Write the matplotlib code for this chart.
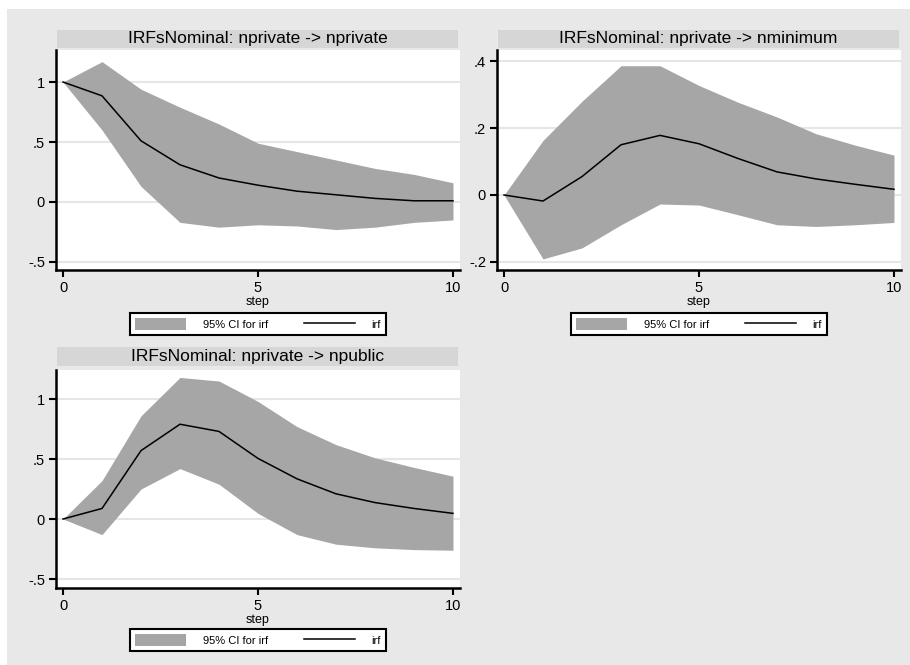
import numpy as np
import matplotlib.pyplot as plt
from matplotlib.patches import Patch, Rectangle
from matplotlib.lines import Line2D

plt.rcParams['font.family'] = ['Liberation Sans', 'DejaVu Sans']

steps = np.arange(11)

# nprivate -> nprivate
irf1 = [1.0, 0.885, 0.51, 0.31, 0.20, 0.14, 0.09, 0.06, 0.03, 0.01, 0.01]
up1 = [1.0, 1.17, 0.94, 0.79, 0.65, 0.49, 0.42, 0.35, 0.28, 0.23, 0.16]
lo1 = [1.0, 0.60, 0.13, -0.17, -0.21, -0.19, -0.20, -0.23, -0.21, -0.17, -0.15]

# nprivate -> nminimum
irf2 = [0.0, -0.018, 0.055, 0.15, 0.178, 0.153, 0.109, 0.069, 0.048, 0.032, 0.017]
up2 = [0.0, 0.163, 0.28, 0.386, 0.386, 0.327, 0.277, 0.233, 0.183, 0.149, 0.119]
lo2 = [0.0, -0.191, -0.158, -0.089, -0.027, -0.03, -0.059, -0.089, -0.094, -0.089, -0.082]

# nprivate -> npublic
irf3 = [0.0, 0.088, 0.57, 0.79, 0.73, 0.505, 0.335, 0.21, 0.137, 0.088, 0.047]
up3 = [0.0, 0.32, 0.86, 1.18, 1.15, 0.98, 0.77, 0.62, 0.51, 0.43, 0.357]
lo3 = [0.0, -0.13, 0.25, 0.42, 0.29, 0.047, -0.13, -0.21, -0.24, -0.255, -0.26]

titles = ["IRFsNominal: nprivate -> nprivate",
          "IRFsNominal: nprivate -> nminimum",
          "IRFsNominal: nprivate -> npublic"]
yticks1 = [-0.5, 0, 0.5, 1]
ylabels1 = ["-.5", "0", ".5", "1"]
yticks2 = [-0.2, 0, 0.2, 0.4]
ylabels2 = ["-.2", "0", ".2", ".4"]

W, H = 910, 665
fig = plt.figure(figsize=(W / 100, H / 100), dpi=100)
fig.patch.set_facecolor("white")
fig.patches.append(Rectangle((7 / W, 0), 1, 1 - 9 / H, transform=fig.transFigure,
                             facecolor="#e8e8e8", edgecolor="none", zorder=-10))


def px(x0, y0, x1, y1):
    return [x0 / W, 1 - y1 / H, (x1 - x0) / W, (y1 - y0) / H]


def panel(rect, title, irf, lo, up, yticks, ylabels, ylim, strip_y, leg_y):
    x0, y0, x1, y1 = rect
    ax = fig.add_axes(px(*rect))
    ax.set_facecolor("white")
    ax.fill_between(steps, lo, up, color="#a6a6a6", linewidth=0, zorder=2)
    ax.plot(steps, irf, color="black", linewidth=1.1, zorder=3)
    ax.set_xlim(-0.18, 10.18)
    ax.set_ylim(*ylim)
    ax.set_xticks([0, 5, 10])
    ax.set_yticks(yticks)
    ax.set_yticklabels(ylabels)
    ax.grid(axis="y", color="#e6e6e6", linewidth=1.5, zorder=1)
    ax.grid(axis="x", visible=False)
    for s in ["top", "right"]:
        ax.spines[s].set_visible(False)
    for s in ["left", "bottom"]:
        ax.spines[s].set_linewidth(1.8)
    ax.tick_params(direction="out", length=5, width=1.5, labelsize=10.5, pad=3)
    ax.set_xlabel("step", fontsize=9, labelpad=1)
    # title strip
    sx0, sx1 = x0 + 1, x1 - 2
    fig.patches.append(Rectangle((sx0 / W, 1 - strip_y[1] / H), (sx1 - sx0) / W,
                                 (strip_y[1] - strip_y[0]) / H, transform=fig.transFigure,
                                 facecolor="#d6d6d6", edgecolor="none", zorder=-5))
    fig.text((sx0 + sx1) / 2 / W, 1 - (strip_y[0] + strip_y[1]) / 2 / H, title,
             ha="center", va="center", fontsize=12.5)
    handles = [Patch(facecolor="#a6a6a6", edgecolor="none"),
               Line2D([], [], color="black", linewidth=1.1)]
    cx = (x0 + 7 + 39 * 5) / W
    leg = ax.legend(handles, ["95% CI for irf", "irf"], ncol=2, loc="center",
                    bbox_to_anchor=(cx, 1 - leg_y / H), bbox_transform=fig.transFigure,
                    fontsize=8, handlelength=4.6, handleheight=1.2, handletextpad=1.5,
                    columnspacing=3.2, borderpad=0.45, fancybox=False, framealpha=1)
    leg.get_frame().set_edgecolor("black")
    leg.get_frame().set_linewidth(1.5)
    return ax


panel((56, 50, 460, 270), titles[0], irf1, lo1, up1, yticks1, ylabels1,
      (-0.567, 1.267), (30, 48), 324)
panel((497, 50, 901, 270), titles[1], irf2, lo2, up2, yticks2, ylabels2,
      (-0.224, 0.433), (30, 48), 324)
panel((56, 370, 460, 588), titles[2], irf3, lo3, up3, yticks1, ylabels1,
      (-0.575, 1.242), (347, 366), 640)

fig.savefig("out.png", dpi=100, facecolor=fig.get_facecolor())
